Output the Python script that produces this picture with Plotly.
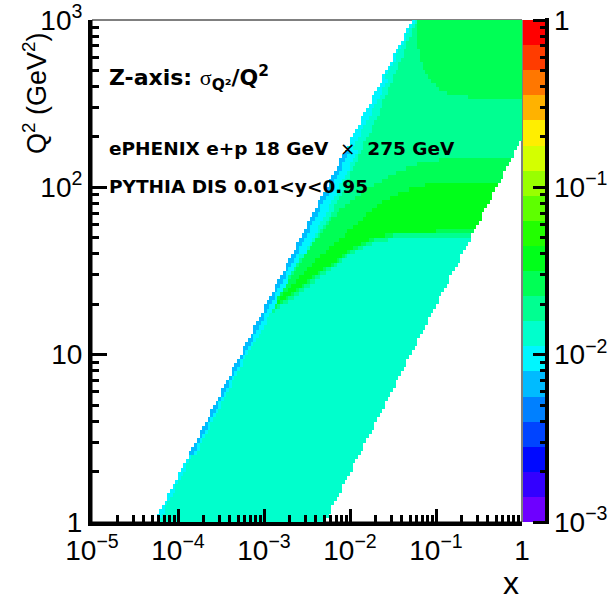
import numpy as np
import plotly.graph_objects as go

# ---------------- kinematics quoted on the chart ----------------
E_ELECTRON = 18.0      # GeV
E_PROTON = 275.0       # GeV
Y_MIN, Y_MAX = 0.01, 0.95

# ---------------- histogram binning (log10) ----------------
X_LOG_MIN, X_LOG_MAX, NX = -5.0, 0.0, 160
Q2_LOG_MIN, Q2_LOG_MAX, NQ = 0.0, 3.0, 120

# ---------------- colour scale: 20 contours, 1e-3 .. 1 ----------------
Z_LOG_MIN, Z_LOG_MAX, N_CONT = -3.0, 0.0, 20
PALETTE = ["#6e00ff", "#3300ff", "#0009ff", "#0044ff", "#0080ff",
           "#00bbff", "#00f6ff", "#00ffcc", "#00ff91", "#00ff55",
           "#00ff1a", "#22ff00", "#5eff00", "#99ff00", "#d4ff00",
           "#ffee00", "#ffb200", "#ff7700", "#ff3c00", "#ff0000"]

# ---------------- sigma_Q2/Q2 values ----------------
VAL_BULK = 0.0133      # aquamarine bulk
VAL_EDGE_BLUE = 0.0067 # outermost column at y ~ 0.95
VAL_EDGE_CYAN = 0.0094
VAL_SPRING = 0.0188    # region above the ridge
VAL_GREEN = 0.0266     # ridge shoulder / top-right corner
VAL_RIDGE = 0.0376     # ridge core

# region outlines (x, Q2)
SPRING_X = [0.063, 2.0, 2.0, 0.0381, 0.0185, 0.0100, 4.85e-3, 2.42e-3, 1.175e-3,
            6.87e-4, 5.26e-4, 9.48e-4, 2.01e-3, 4.48e-3, 7.06e-3, 0.0212, 0.0618]
SPRING_Q2 = [2000, 2000, 52.7, 50.5, 46.5, 39.4, 29.9, 22.7, 17.3,
             10.7, 8.7, 17.8, 29.9, 54.1, 80.7, 271, 1030]

GREEN_X = [5.6e-4, 9.48e-4, 1.90e-3, 3.61e-3, 6.70e-3, 0.01239, 0.0255, 0.0499, 0.111,
           2.0, 2.0, 0.0381, 0.0185, 0.0100, 4.85e-3, 2.42e-3, 1.175e-3, 6.87e-4]
GREEN_Q2 = [9.5, 16.6, 28.0, 45.3, 68.4, 90.1, 112.6, 134, 146,
            150, 55.0, 52.7, 48.5, 41.1, 31.2, 23.7, 18.0, 11.0]

RIDGE_X = [7.2e-4, 1.343e-3, 2.62e-3, 5.12e-3, 0.0100, 0.01954, 0.0381, 0.0851,
           2.0, 2.0, 0.0381, 0.0185, 0.0100, 4.85e-3, 2.42e-3, 1.175e-3]
RIDGE_Q2 = [12.2, 20.4, 29.5, 41.1, 55.6, 76.4, 93.9, 104.8,
            106, 56.4, 54.1, 49.9, 42.3, 32.1, 24.4, 18.5]

CORNER_X = [0.0585, 0.0601, 0.0652, 0.0786, 0.1027, 0.158, 0.269, 2.0, 2.0]
CORNER_Q2 = [2000, 782, 570, 470, 393, 352, 342, 342, 2000]

# strips along the y = 0.95 edge (per Q2 slice)
EDGE_Q2_BOUNDS = [1, 2.5, 12, 40, 170, 450, 1000]
EDGE_BLUE_YMIN = [1.10, 0.86, 0.85, 0.83, 1.10, 1.10]
EDGE_CYAN_YMIN = [0.86, 0.80, 0.74, 0.67, 0.80, 0.88]


def in_poly(px, py, vx, vy):
    inside = np.zeros(px.shape, dtype=bool)
    n = len(vx)
    j = n - 1
    for i in range(n):
        xi, yi, xj, yj = vx[i], vy[i], vx[j], vy[j]
        cross = (yi > py) != (yj > py)
        xint = (xj - xi) * (py - yi) / ((yj - yi) if yj != yi else 1e-30) + xi
        inside ^= cross & (px < xint)
        j = i
    return inside


S = 4.0 * E_ELECTRON * E_PROTON
x_edges_log = np.linspace(X_LOG_MIN, X_LOG_MAX, NX + 1)
q_edges_log = np.linspace(Q2_LOG_MIN, Q2_LOG_MAX, NQ + 1)
lx = 0.5 * (x_edges_log[:-1] + x_edges_log[1:])
lq = 0.5 * (q_edges_log[:-1] + q_edges_log[1:])
LX, LQ = np.meshgrid(lx, lq)
Q2 = 10 ** LQ
Y = 10 ** (LQ - LX) / S

val = np.full(LX.shape, VAL_BULK)
for vx, vy, v in [(SPRING_X, SPRING_Q2, VAL_SPRING),
                  (GREEN_X, GREEN_Q2, VAL_GREEN),
                  (RIDGE_X, RIDGE_Q2, VAL_RIDGE),
                  (CORNER_X, CORNER_Q2, VAL_GREEN)]:
    m = in_poly(LX, LQ, np.log10(vx), np.log10(vy))
    val[m] = v
for k in range(len(EDGE_BLUE_YMIN)):
    sl = (Q2 >= EDGE_Q2_BOUNDS[k]) & (Q2 < EDGE_Q2_BOUNDS[k + 1])
    val[sl & (Y > EDGE_CYAN_YMIN[k])] = VAL_EDGE_CYAN
    val[sl & (Y > EDGE_BLUE_YMIN[k])] = VAL_EDGE_BLUE
z = np.log10(val)
z[(Y <= Y_MIN) | (Y >= Y_MAX)] = np.nan

colorscale = []
for k, c in enumerate(PALETTE):
    colorscale.append([k / N_CONT, c])
    colorscale.append([(k + 1) / N_CONT, c])

fig = go.Figure()
fig.add_trace(go.Heatmap(
    x=10 ** x_edges_log, y=10 ** q_edges_log, z=z,
    colorscale=colorscale, zmin=Z_LOG_MIN, zmax=Z_LOG_MAX,
    showscale=False, hoverinfo="skip", xaxis="x", yaxis="y"))

# palette bar drawn on its own log axis (bar occupies x2 in [0, 1])
cb_edges = 10 ** np.linspace(Z_LOG_MIN, Z_LOG_MAX, N_CONT + 1)
cb_z = [[np.log10(np.sqrt(cb_edges[k] * cb_edges[k + 1]))] for k in range(N_CONT)]
fig.add_trace(go.Heatmap(
    x=[0, 1], y=cb_edges, z=cb_z, colorscale=colorscale,
    zmin=Z_LOG_MIN, zmax=Z_LOG_MAX, showscale=False, hoverinfo="skip",
    xaxis="x2", yaxis="y2"))

TICKFONT = dict(family="Liberation Sans, Arial", size=28, color="black")
X_TICKS = [1e-5, 1e-4, 1e-3, 1e-2, 1e-1, 1]
X_TICKTEXT = ["10<sup>\u22125</sup>", "10<sup>\u22124</sup>", "10<sup>\u22123</sup>",
              "10<sup>\u22122</sup>", "10<sup>\u22121</sup>", "1"]
Y_TICKS = [1, 10, 100, 1000]
Y_TICKTEXT = ["1", "10", "10<sup>2</sup>", "10<sup>3</sup>"]
Z_TICKS = [1e-3, 1e-2, 1e-1, 1]
Z_TICKTEXT = ["10<sup>\u22123</sup>", "10<sup>\u22122</sup>", "10<sup>\u22121</sup>", "1"]
DIGITS = [2, 3, 4, 5, 6, 7, 8, 9]
x_minor = [d * 10.0 ** e for e in range(-5, 0) for d in DIGITS]
y_minor = [d * 10.0 ** e for e in range(0, 3) for d in DIGITS]
z_minor = [d * 10.0 ** e for e in range(-3, 0) for d in DIGITS]

W_PLOT = 461.0
XDOM = 430.0 / W_PLOT
CB_LEFT, CB_PX = 431.0, 22.0

common = dict(showline=True, linewidth=4, linecolor="black", ticks="inside",
              tickwidth=3, tickcolor="black", showgrid=False, zeroline=False,
              tickfont=TICKFONT, tickmode="array", automargin=False)
fig.update_layout(
    width=613, height=601,
    margin=dict(l=92, r=613 - 92 - W_PLOT, t=20, b=79, pad=0, autoexpand=False),
    paper_bgcolor="white", plot_bgcolor="white",
    showlegend=False,
    xaxis=dict(type="log", range=[X_LOG_MIN, X_LOG_MAX], domain=[0, XDOM],
               tickvals=X_TICKS, ticktext=X_TICKTEXT, ticklen=13,
               minor=dict(tickmode="array", tickvals=x_minor, ticks="inside",
                          ticklen=7, tickwidth=3, tickcolor="black"),
               anchor="y", **common),
    yaxis=dict(type="log", range=[Q2_LOG_MIN, Q2_LOG_MAX], domain=[0, 1],
               tickvals=Y_TICKS, ticktext=Y_TICKTEXT, ticklen=15,
               minor=dict(tickmode="array", tickvals=y_minor, ticks="inside",
                          ticklen=7, tickwidth=3, tickcolor="black"),
               anchor="x", **common),
    xaxis2=dict(domain=[CB_LEFT / W_PLOT, 1.0], range=[0, (W_PLOT - CB_LEFT) / CB_PX],
                showline=False, showticklabels=False, ticks="", showgrid=False,
                zeroline=False, anchor="y2", automargin=False),
    yaxis2=dict(type="log", range=[Z_LOG_MIN, Z_LOG_MAX], domain=[0, 1],
                side="right", anchor="x2", showline=False, ticks="",
                tickvals=Z_TICKS, ticktext=Z_TICKTEXT, tickmode="array",
                showgrid=False, zeroline=False,
                tickfont=TICKFONT, automargin=False),
)

# thin frame on top / right (hidden under the filled cells)
fig.add_shape(type="rect", xref="x domain", yref="y domain", x0=0, x1=1, y0=0, y1=1,
              line=dict(color="black", width=1), layer="below")

# palette axis: thick black line at the right of the bar with inward ticks,
# drawn as small filled boxes in the top layer
AX_RIGHT_PX = CB_LEFT + CB_PX + 4.0


def black_box(right_px, y_frac, w, h):
    fig.add_annotation(xref="paper", yref="paper", x=right_px / W_PLOT, y=y_frac,
                       xanchor="right", yanchor="middle", showarrow=False,
                       text=" ", font=dict(size=1), width=w, height=h,
                       bgcolor="black", borderpad=0, borderwidth=0)


black_box(AX_RIGHT_PX, 0.5, 4, 506)
for vals, tlen in [(Z_TICKS, 16), (z_minor, 9)]:
    for v in vals:
        f = (np.log10(v) - Z_LOG_MIN) / (Z_LOG_MAX - Z_LOG_MIN)
        black_box(AX_RIGHT_PX, f, tlen, 3)

BOLD = "DejaVu Sans"
fig.add_annotation(xref="paper", yref="paper", x=15 / W_PLOT, y=0.8845,
                   xanchor="left", yanchor="middle", showarrow=False,
                   text="<b>Z-axis: </b><span style='font-family:Liberation Serif'>\u03c3</span>"
                        "<sub><b>Q\u00b2</b></sub><b>/Q<sup>2</sup></b>",
                   font=dict(family=BOLD, size=22, color="black"))
fig.add_annotation(xref="paper", yref="paper", x=15 / W_PLOT, y=0.745,
                   xanchor="left", yanchor="middle", showarrow=False,
                   text="<b>ePHENIX e+p 18 GeV</b>  \u00d7  <b>275 GeV</b>",
                   font=dict(family=BOLD, size=18.5, color="black"))
fig.add_annotation(xref="paper", yref="paper", x=15 / W_PLOT, y=0.669,
                   xanchor="left", yanchor="middle", showarrow=False,
                   text="<b>PYTHIA DIS 0.01&lt;y&lt;0.95</b>",
                   font=dict(family=BOLD, size=18.5, color="black"))
fig.add_annotation(xref="paper", yref="paper", x=(511 - 92) / W_PLOT, y=-0.122,
                   xanchor="center", yanchor="middle", showarrow=False,
                   text="x", font=dict(family="Liberation Sans, Arial", size=32, color="black"))
fig.add_annotation(xref="paper", yref="paper", x=(35 - 92) / W_PLOT, y=0.8546,
                   xanchor="center", yanchor="middle", showarrow=False, textangle=-90,
                   text="Q<sup>2</sup> (GeV<sup>2</sup>)",
                   font=dict(family="Liberation Sans, Arial", size=27, color="black"))

fig.write_html("out.html")
